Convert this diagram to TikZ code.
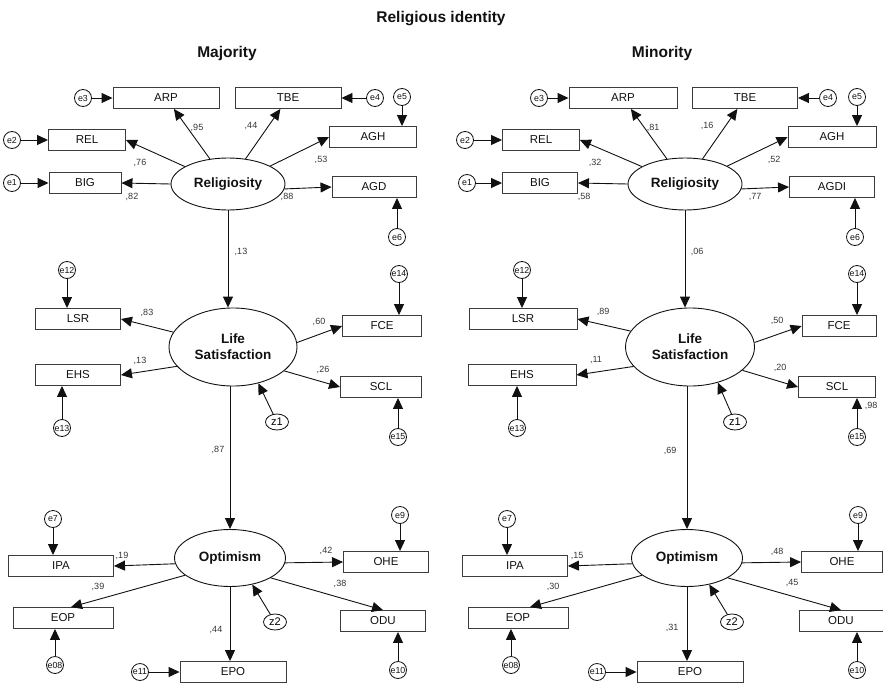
\documentclass[tikz,border=0pt]{standalone}
\usepackage{fontspec}
\setmainfont{Liberation Sans}
\usetikzlibrary{arrows.meta,shapes.geometric}
\definecolor{semInk}{HTML}{111111}
\definecolor{semBox}{HTML}{3C3C3C}
\tikzset{
  obs/.style   = {draw=semBox, line width=0.9pt, minimum height=21pt, inner sep=0,
                  font=\fontsize{11.5}{12}\selectfont, text=semInk},
  lat/.style   = {ellipse, draw=semInk, line width=0.9pt, inner sep=0, align=center,
                  font=\bfseries\fontsize{13.5}{16}\selectfont, text=semInk},
  err/.style   = {circle, draw=semInk, line width=0.8pt, minimum size=17pt, inner sep=0,
                  font=\fontsize{8.8}{9}\selectfont, text=semInk},
  dist/.style  = {ellipse, draw=semInk, line width=0.8pt, minimum width=23pt,
                  minimum height=16pt, inner sep=0, font=\fontsize{11}{12}\selectfont},
  path/.style  = {line width=0.9pt, color=semInk,
                  -{Triangle[length=11pt,width=10pt]}},
  coef/.style  = {font=\fontsize{9}{10}\selectfont, inner sep=0, text=semInk!85},
  hd/.style    = {font=\bfseries\fontsize{15.5}{17}\selectfont, inner sep=0,
                  text=semInk, anchor=base},
}
\begin{document}
\begin{tikzpicture}[x=1pt, y=-1pt]
\useasboundingbox (0,0) rectangle (883,685);

% --- headings ---
\node[hd] (title) at (441,23) {Religious identity};
\node[hd] (majT)  at (227,57) {Majority};
\node[hd] (minT)  at (662,57) {Minority};

% ===================== majority =====================
% --- religiosity block ---
\node[lat, minimum width=114pt, minimum height=52pt] (maj-rel) at (228,184) {Religiosity};
\node[obs, minimum width=106pt] (maj-ARP) at (166,98)  {ARP};
\node[obs, minimum width=106pt] (maj-TBE) at (288,98)  {TBE};
\node[obs, minimum width=77pt]  (maj-REL) at (87,140)  {REL};
\node[obs, minimum width=72pt]  (maj-BIG) at (85,183)  {BIG};
\node[obs, minimum width=87pt]  (maj-AGH) at (373,137) {AGH};
\node[obs, minimum width=84pt]  (maj-AGD) at (374,187) {AGD};
\node[err] (maj-e3) at (83,98)   {e3};
\node[err] (maj-e4) at (375,98)  {e4};
\node[err] (maj-e5) at (402,97)  {e5};
\node[err] (maj-e2) at (12,140)  {e2};
\node[err] (maj-e1) at (12,183)  {e1};
\node[err] (maj-e6) at (397,237) {e6};

\draw[path] (maj-rel) -- (maj-ARP);
\draw[path] (maj-rel) -- (maj-TBE);
\draw[path] (maj-rel.158) -- (maj-REL.east);
\draw[path] (maj-rel.west) -- (maj-BIG.east);
\draw[path] (maj-rel.23) -- (maj-AGH.west);
\draw[path] (maj-rel.-5) -- (maj-AGD.west);
\draw[path] (maj-e3) -- (maj-ARP);
\draw[path] (maj-e4) -- (maj-TBE);
\draw[path] (maj-e5) -- (maj-e5 |- maj-AGH.north);
\draw[path] (maj-e2) -- (maj-REL);
\draw[path] (maj-e1) -- (maj-BIG);
\draw[path] (maj-e6) -- (maj-e6 |- maj-AGD.south);

\node[coef] (maj-cARP) at (197,128) {,95};
\node[coef] (maj-cTBE) at (251,126) {,44};
\node[coef] (maj-cREL) at (140,163) {,76};
\node[coef] (maj-cAGH) at (321,160) {,53};
\node[coef] (maj-cBIG) at (132,197) {,82};
\node[coef] (maj-cAGD) at (287,197) {,88};

% --- life satisfaction block ---
\node[lat, minimum width=128pt, minimum height=78pt] (maj-life) at (233,347) {Life\\Satisfaction};
\node[obs, minimum width=85pt] (maj-LSR) at (78,319)  {LSR};
\node[obs, minimum width=85pt] (maj-EHS) at (78,375)  {EHS};
\node[obs, minimum width=79pt] (maj-FCE) at (382,326) {FCE};
\node[obs, minimum width=81pt] (maj-SCL) at (381,387) {SCL};
\node[err] (maj-e12) at (67,270)  {e12};
\node[err] (maj-e13) at (62,428)  {e13};
\node[err] (maj-e14) at (399,274) {e14};
\node[err] (maj-e15) at (398,437) {e15};
\node[dist] (maj-z1) at (277,422) {z1};

\draw[path] (maj-rel.south) -- (maj-rel.south |- maj-life.north);
\draw[path] (maj-life.166) -- (maj-LSR.east);
\draw[path] (maj-life.199) -- (maj-EHS.east);
\draw[path] (maj-life.4) -- (maj-FCE.west);
\draw[path] (maj-life.-25) -- (maj-SCL.west);
\draw[path] (maj-z1) -- (maj-life.-55);
\draw[path] (maj-e12) -- (maj-e12 |- maj-LSR.north);
\draw[path] (maj-e13) -- (maj-e13 |- maj-EHS.south);
\draw[path] (maj-e14) -- (maj-e14 |- maj-FCE.north);
\draw[path] (maj-e15) -- (maj-e15 |- maj-SCL.south);

\node[coef] (maj-cLife) at (241,252) {,13};
\node[coef] (maj-cLSR)  at (147,313) {,83};
\node[coef] (maj-cEHS)  at (140,361) {,13};
\node[coef] (maj-cFCE)  at (319,322) {,60};
\node[coef] (maj-cSCL)  at (323,370) {,26};

% --- optimism block ---
\node[lat, minimum width=111pt, minimum height=57pt] (maj-opt) at (230,558) {Optimism};
\node[obs, minimum width=105pt] (maj-IPA) at (61,566)  {IPA};
\node[obs, minimum width=100pt] (maj-EOP) at (63,618)  {EOP};
\node[obs, minimum width=106pt] (maj-EPO) at (233,672) {EPO};
\node[obs, minimum width=85pt]  (maj-OHE) at (386,562) {OHE};
\node[obs, minimum width=85pt]  (maj-ODU) at (383,621) {ODU};
\node[err] (maj-e7)  at (53,519)  {e7};
\node[err] (maj-e08) at (55,665)  {e08};
\node[err] (maj-e11) at (140,672) {e11};
\node[err] (maj-e9)  at (400,515) {e9};
\node[err] (maj-e10) at (398,670) {e10};
\node[dist] (maj-z2) at (275,622) {z2};

\draw[path] (maj-opt.north |- maj-life.south) -- (maj-opt.north);
\draw[path] (maj-opt.186) -- (maj-IPA.east);
\draw[path] (maj-opt.201) -- ([xshift=8pt]maj-EOP.north);
\draw[path] (maj-opt.south) -- (maj-opt.south |- maj-EPO.north);
\draw[path] (maj-opt.-5) -- (maj-OHE.west);
\draw[path] (maj-opt.-26) -- (maj-ODU.north);
\draw[path] (maj-z2) -- (maj-opt.-50);
\draw[path] (maj-e7) -- (maj-e7 |- maj-IPA.north);
\draw[path] (maj-e08) -- (maj-e08 |- maj-EOP.south);
\draw[path] (maj-e11) -- (maj-EPO);
\draw[path] (maj-e9) -- (maj-e9 |- maj-OHE.north);
\draw[path] (maj-e10) -- (maj-e10 |- maj-ODU.south);

\node[coef] (maj-cOpt) at (218,450) {,87};
\node[coef] (maj-cIPA) at (122,556) {,19};
\node[coef] (maj-cEOP) at (98,587)  {,39};
\node[coef] (maj-cEPO) at (216,630) {,44};
\node[coef] (maj-cOHE) at (326,551) {,42};
\node[coef] (maj-cODU) at (340,584) {,38};

% ===================== minority =====================
% --- religiosity block ---
\node[lat, minimum width=114pt, minimum height=52pt] (min-rel) at (685,184) {Religiosity};
\node[obs, minimum width=108pt] (min-ARP)  at (623,98)  {ARP};
\node[obs, minimum width=105pt] (min-TBE)  at (745,98)  {TBE};
\node[obs, minimum width=77pt]  (min-REL)  at (541,140) {REL};
\node[obs, minimum width=75pt]  (min-BIG)  at (540,183) {BIG};
\node[obs, minimum width=88pt]  (min-AGH)  at (832,137) {AGH};
\node[obs, minimum width=85pt]  (min-AGDI) at (832,187) {AGDI};
\node[err] (min-e3) at (539,98)  {e3};
\node[err] (min-e4) at (828,98)  {e4};
\node[err] (min-e5) at (857,97)  {e5};
\node[err] (min-e2) at (465,140) {e2};
\node[err] (min-e1) at (467,183) {e1};
\node[err] (min-e6) at (855,237) {e6};

\draw[path] (min-rel) -- (min-ARP);
\draw[path] (min-rel) -- (min-TBE);
\draw[path] (min-rel.158) -- (min-REL.east);
\draw[path] (min-rel.west) -- (min-BIG.east);
\draw[path] (min-rel.23) -- (min-AGH.west);
\draw[path] (min-rel.-5) -- (min-AGDI.west);
\draw[path] (min-e3) -- (min-ARP);
\draw[path] (min-e4) -- (min-TBE);
\draw[path] (min-e5) -- (min-e5 |- min-AGH.north);
\draw[path] (min-e2) -- (min-REL);
\draw[path] (min-e1) -- (min-BIG);
\draw[path] (min-e6) -- (min-e6 |- min-AGDI.south);

\node[coef] (min-cARP)  at (653,128) {,81};
\node[coef] (min-cTBE)  at (707,126) {,16};
\node[coef] (min-cREL)  at (595,163) {,32};
\node[coef] (min-cAGH)  at (774,160) {,52};
\node[coef] (min-cBIG)  at (584,197) {,58};
\node[coef] (min-cAGDI) at (755,197) {,77};

% --- life satisfaction block ---
\node[lat, minimum width=129pt, minimum height=78pt] (min-life) at (690,347) {Life\\Satisfaction};
\node[obs, minimum width=108pt] (min-LSR) at (523,319) {LSR};
\node[obs, minimum width=108pt] (min-EHS) at (522,375) {EHS};
\node[obs, minimum width=74pt]  (min-FCE) at (839,326) {FCE};
\node[obs, minimum width=77pt]  (min-SCL) at (837,387) {SCL};
\node[err] (min-e12) at (522,270) {e12};
\node[err] (min-e13) at (517,428) {e13};
\node[err] (min-e14) at (857,274) {e14};
\node[err] (min-e15) at (857,437) {e15};
\node[dist] (min-z1) at (735,422) {z1};

\draw[path] (min-rel.south) -- (min-rel.south |- min-life.north);
\draw[path] (min-life.165) -- (min-LSR.east);
\draw[path] (min-life.199) -- (min-EHS.east);
\draw[path] (min-life.4) -- (min-FCE.west);
\draw[path] (min-life.-24) -- (min-SCL.west);
\draw[path] (min-z1) -- (min-life.-52);
\draw[path] (min-e12) -- (min-e12 |- min-LSR.north);
\draw[path] (min-e13) -- (min-e13 |- min-EHS.south);
\draw[path] (min-e14) -- (min-e14 |- min-FCE.north);
\draw[path] (min-e15) -- (min-e15 |- min-SCL.south);

\node[coef] (min-cLife) at (697,252) {,06};
\node[coef] (min-cLSR)  at (603,312) {,89};
\node[coef] (min-cEHS)  at (596,360) {,11};
\node[coef] (min-cFCE)  at (777,321) {,50};
\node[coef] (min-cSCL)  at (780,368) {,20};
\node[coef] (min-cE15)  at (871,406) {,98};

% --- optimism block ---
\node[lat, minimum width=111pt, minimum height=57pt] (min-opt) at (687,558) {Optimism};
\node[obs, minimum width=105pt] (min-IPA) at (515,566) {IPA};
\node[obs, minimum width=100pt] (min-EOP) at (518,618) {EOP};
\node[obs, minimum width=106pt] (min-EPO) at (690,672) {EPO};
\node[obs, minimum width=81pt]  (min-OHE) at (842,562) {OHE};
\node[obs, minimum width=84pt]  (min-ODU) at (841,621) {ODU};
\node[err] (min-e7)  at (507,519) {e7};
\node[err] (min-e08) at (511,665) {e08};
\node[err] (min-e11) at (597,672) {e11};
\node[err] (min-e9)  at (858,515) {e9};
\node[err] (min-e10) at (857,670) {e10};
\node[dist] (min-z2) at (732,622) {z2};

\draw[path] (min-opt.north |- min-life.south) -- (min-opt.north);
\draw[path] (min-opt.186) -- (min-IPA.east);
\draw[path] (min-opt.201) -- ([xshift=12pt]min-EOP.north);
\draw[path] (min-opt.south) -- (min-opt.south |- min-EPO.north);
\draw[path] (min-opt.-5) -- (min-OHE.west);
\draw[path] (min-opt.-26) -- (min-ODU.north);
\draw[path] (min-z2) -- (min-opt.-50);
\draw[path] (min-e7) -- (min-e7 |- min-IPA.north);
\draw[path] (min-e08) -- (min-e08 |- min-EOP.south);
\draw[path] (min-e11) -- (min-EPO);
\draw[path] (min-e9) -- (min-e9 |- min-OHE.north);
\draw[path] (min-e10) -- (min-e10 |- min-ODU.south);

\node[coef] (min-cOpt) at (670,451) {,69};
\node[coef] (min-cIPA) at (577,556) {,15};
\node[coef] (min-cEOP) at (553,587) {,30};
\node[coef] (min-cEPO) at (672,628) {,31};
\node[coef] (min-cOHE) at (777,552) {,48};
\node[coef] (min-cODU) at (792,583) {,45};

\end{tikzpicture}
\end{document}
